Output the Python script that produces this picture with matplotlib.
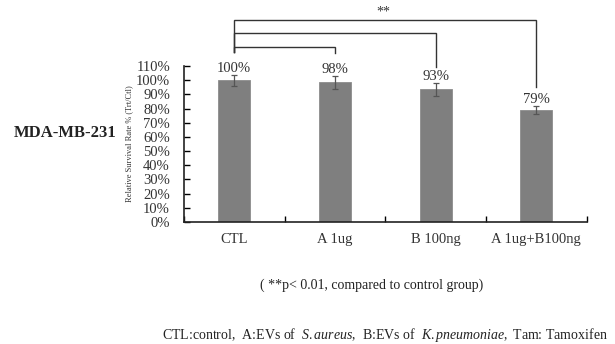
import numpy as np
import matplotlib.pyplot as plt

plt.rcParams['font.family'] = ['Liberation Serif', 'DejaVu Serif']
plt.rcParams['mathtext.fontset'] = 'custom'
plt.rcParams['mathtext.rm'] = 'Liberation Serif'
plt.rcParams['mathtext.it'] = 'Liberation Serif:italic'

# data
groups = ['CTL', 'A 1ug', 'B 100ng', 'A 1ug+B100ng']
survival = [1.00, 0.985, 0.937, 0.788]
err = [0.04, 0.045, 0.045, 0.03]
labels = ['100%', '98%', '93%', '79%']

# brackets: CTL -> group i, bracket height and drop end
br_to = [1, 2, 3]
br_top = [1.234, 1.333, 1.425]
br_end = [1.192, 1.093, 0.952]
ctl_end = 1.199

fig = plt.figure(figsize=(6.15, 3.44), dpi=100)
ax = fig.add_axes([0.299, 0.355, 0.655, 0.453])

x = np.arange(len(groups))
ax.bar(x, survival, width=0.32, color='#7f7f7f', edgecolor='#8c8c8c', linewidth=0.6, zorder=2)
ax.errorbar(x, survival, yerr=err, fmt='none', ecolor='#555555', elinewidth=0.9,
            capsize=2.5, capthick=0.9, zorder=3)
for xi, s, e, l in zip(x, survival, err, labels):
    ax.annotate(l, (xi, s + e), xytext=(0, 0), textcoords='offset points',
                ha='center', va='bottom', fontsize=10.5, color='#333333')

for i, top, end in zip(br_to, br_top, br_end):
    ax.plot([0, 0, i, i], [ctl_end, top, top, end], color='#333333', lw=1.0,
            clip_on=False, solid_joinstyle='miter')
ax.text(1.48, 1.435, '**', ha='center', va='bottom', fontsize=10, color='#333333')

ax.set_xlim(-0.5, 3.5)
ax.set_ylim(0, 1.1)
ax.set_yticks(np.arange(0, 1.11, 0.1))
ax.set_yticklabels(['%d%%' % round(v * 100) for v in np.arange(0, 1.11, 0.1)])
ax.set_xticks(np.arange(-0.5, 3.6, 1.0))
ax.set_xticklabels([])
for xi, g in zip(x, groups):
    ax.text(xi, -0.08, g, ha='center', va='top', fontsize=10.5, color='#333333')

ax.tick_params(axis='y', direction='in', length=4, width=1, labelsize=10.5,
               labelcolor='#333333', pad=10)
ax.tick_params(axis='x', direction='in', length=4, width=1)
for sp in ['top', 'right']:
    ax.spines[sp].set_visible(False)
for sp in ['left', 'bottom']:
    ax.spines[sp].set_linewidth(1.2)
    ax.spines[sp].set_color('#222222')

ax.set_ylabel('Relative Survival Rate % (Trt/Ctl)', fontsize=6, color='#333333', labelpad=2)

fig.text(0.023, 0.613, 'MDA-MB-231', fontsize=12, fontweight='bold', va='center', color='#222222')
fig.text(0.605, 0.172, '( **p< 0.01, compared to control group)', fontsize=10,
         ha='center', va='center', color='#222222')
fig.text(0.263, 0.027,
         r'CTL:control,  A:EVs of  $\mathit{S.aureus}$,  B:EVs of  $\mathit{K.pneumoniae,}$ Tam: Tamoxifen',
         fontsize=10, ha='left', va='center', color='#222222')

fig.savefig('out.png', dpi=100)
